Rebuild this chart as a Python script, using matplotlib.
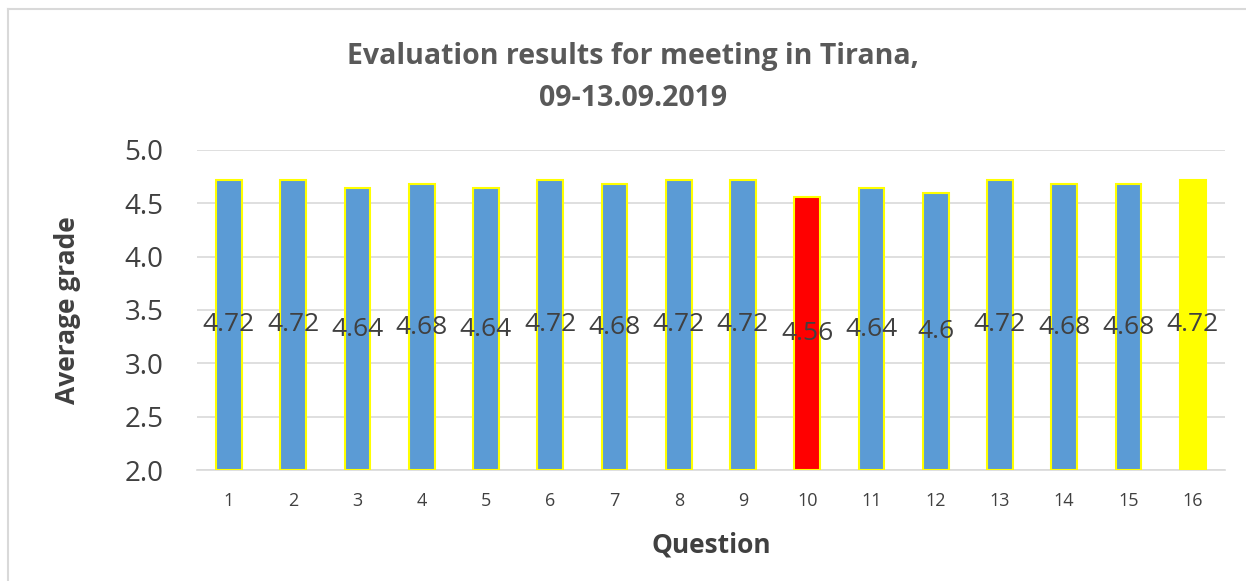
import matplotlib
matplotlib.use("Agg")
import matplotlib.pyplot as plt
from matplotlib.lines import Line2D

plt.rcParams['font.family'] = ['Open Sans', 'DejaVu Sans']

questions = [str(i) for i in range(1, 17)]
grades = [4.72, 4.72, 4.64, 4.68, 4.64, 4.72, 4.68, 4.72, 4.72, 4.56,
          4.64, 4.6, 4.72, 4.68, 4.68, 4.72]
fill_colors = ["#5B9BD5"] * 9 + ["#FF0000"] + ["#5B9BD5"] * 5 + ["#FFFF00"]
y_ticks = [2.0, 2.5, 3.0, 3.5, 4.0, 4.5, 5.0]

fig = plt.figure(figsize=(12.46, 5.81), dpi=100)
ax = fig.add_axes([0.158, 0.191, 0.825, 0.551])

base = 2.0
x = list(range(len(questions)))
heights = [g - base for g in grades]
ax.bar(x, heights, bottom=base, width=0.4, color=fill_colors,
       edgecolor="#FFFF00", linewidth=1.5, zorder=3)

# data labels in the middle of each bar
for xi, g in zip(x, grades):
    label = "{:g}".format(g)
    ax.text(xi, (g + base) / 2, label, ha="center", va="center",
            fontsize=19, color="#404040", zorder=4)

ax.set_xlim(-0.5, len(questions) - 0.5)
ax.set_ylim(2.0, 5.0)
ax.set_yticks(y_ticks)
ax.set_yticklabels(["{:.1f}".format(v) for v in y_ticks], fontsize=20, color="#404040")
ax.set_xticks(x)
ax.set_xticklabels(questions, fontsize=13, color="#404040")
ax.tick_params(axis="both", length=0)
ax.tick_params(axis="x", pad=16)
ax.tick_params(axis="y", pad=24)

ax.grid(axis="y", color="#D9D9D9", linewidth=1.2, zorder=0)
for side in ["top", "right", "left"]:
    ax.spines[side].set_visible(False)
ax.spines["bottom"].set_color("#D9D9D9")
ax.spines["bottom"].set_linewidth(1.2)

ax.set_xlabel("Question", fontsize=19, fontweight="bold", color="#404040", labelpad=15)
ax.set_ylabel("Average grade", fontsize=19, fontweight="bold", color="#404040", labelpad=31)

fig.text(0.508, 0.866, "Evaluation results for meeting in Tirana,\n09-13.09.2019",
         ha="center", va="center", fontsize=20.5, fontweight="bold",
         color="#595959", linespacing=1.6)

# outer chart border (top and left edges visible)
fig.add_artist(Line2D([8 / 1246, 1.0], [1 - 9 / 581, 1 - 9 / 581],
                      transform=fig.transFigure, color="#D9D9D9", linewidth=1.5))
fig.add_artist(Line2D([8 / 1246, 8 / 1246], [0.0, 1 - 9 / 581],
                      transform=fig.transFigure, color="#D9D9D9", linewidth=1.5))

fig.savefig("out.png", dpi=100)
